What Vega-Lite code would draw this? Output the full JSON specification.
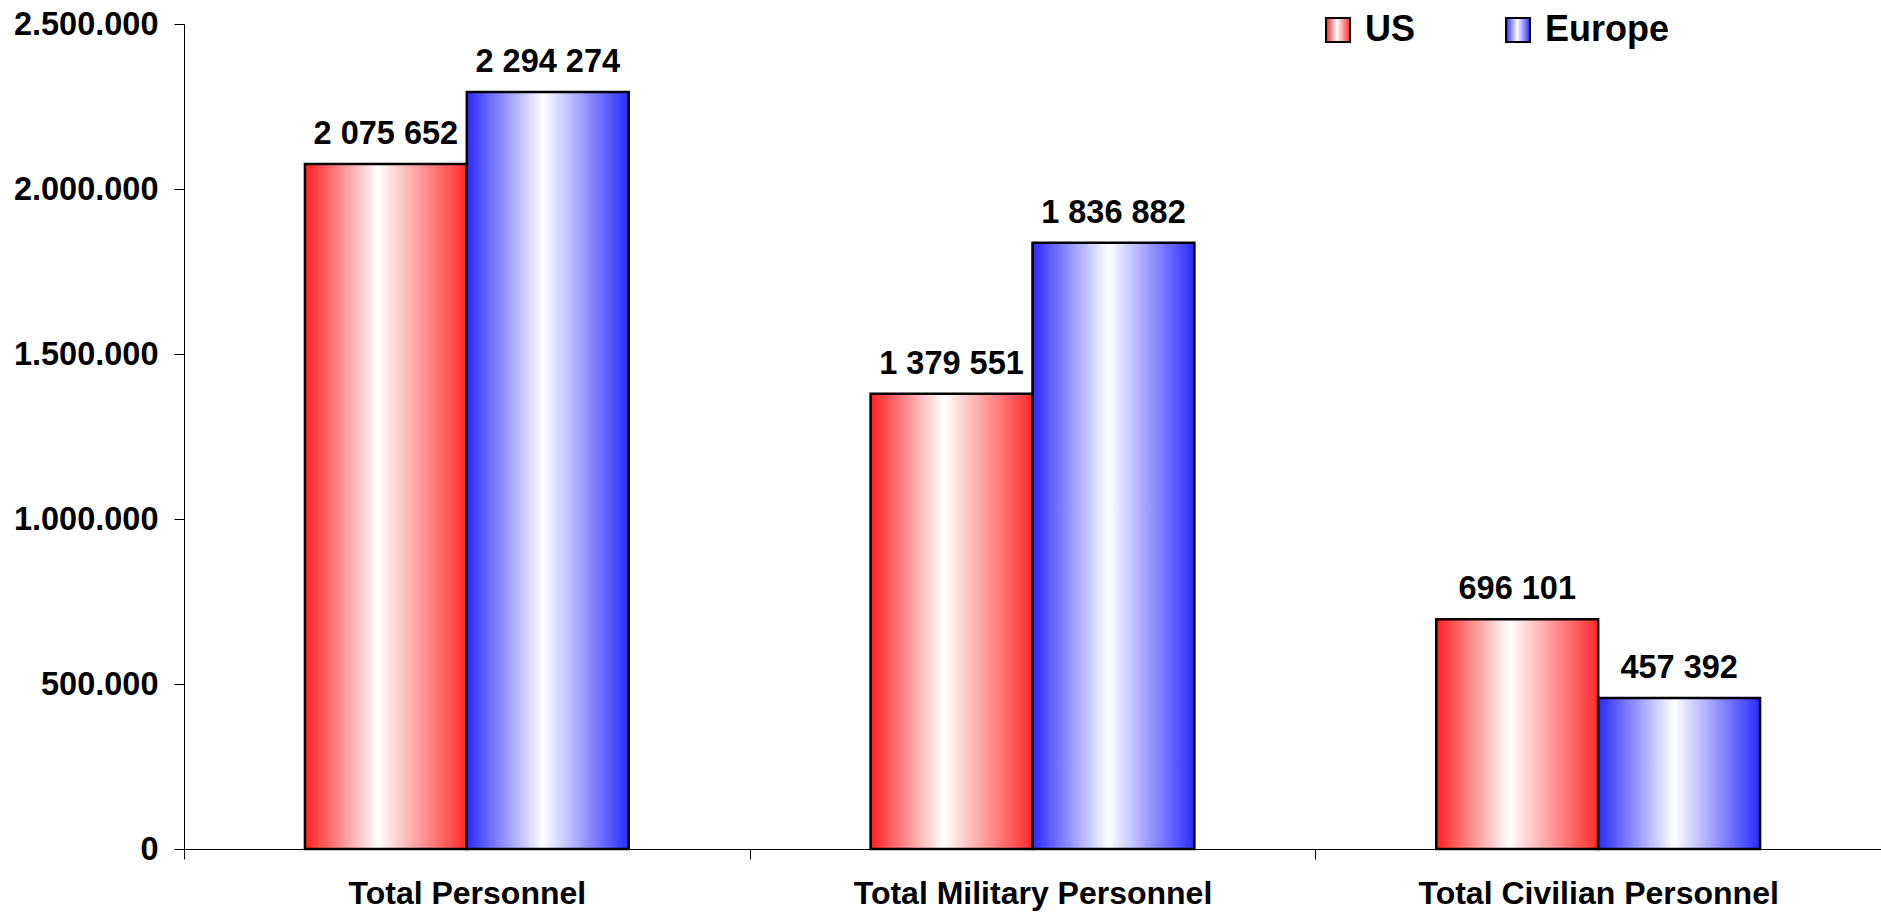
{
  "$schema": "https://vega.github.io/schema/vega-lite/v6.json",
  "width": 1697,
  "height": 825,
  "padding": {"left": 184, "top": 24, "right": 0, "bottom": 65},
  "autosize": {"type": "none"},
  "background": "white",
  "config": {
    "view": {"stroke": null},
    "font": "Liberation Sans",
    "locale": {"number": {"decimal": ",", "thousands": " ", "grouping": [3], "currency": ["", ""]}}
  },
  "data": {
    "values": [
      {"category": "Total Personnel", "series": "US", "value": 2075652},
      {"category": "Total Personnel", "series": "Europe", "value": 2294274},
      {"category": "Total Military Personnel", "series": "US", "value": 1379551},
      {"category": "Total Military Personnel", "series": "Europe", "value": 1836882},
      {"category": "Total Civilian Personnel", "series": "US", "value": 696101},
      {"category": "Total Civilian Personnel", "series": "Europe", "value": 457392}
    ]
  },
  "encoding": {
    "x": {
      "field": "category",
      "type": "nominal",
      "sort": ["Total Personnel", "Total Military Personnel", "Total Civilian Personnel"],
      "scale": {"paddingInner": 0, "paddingOuter": 0},
      "axis": {
        "title": null,
        "labelAngle": 0,
        "labelFont": "Liberation Sans",
        "labelFontSize": 32,
        "labelFontWeight": "bold",
        "labelColor": "black",
        "labelPadding": 19,
        "labelLimit": 700,
        "domainColor": "black",
        "domainWidth": 1,
        "tickColor": "black",
        "tickSize": 10,
        "tickBand": "extent",
        "grid": false
      }
    },
    "xOffset": {
      "field": "series",
      "type": "nominal",
      "sort": ["US", "Europe"],
      "scale": {"paddingInner": 0, "paddingOuter": 0.747}
    },
    "y": {
      "field": "value",
      "type": "quantitative",
      "scale": {"domain": [0, 2500000], "nice": false},
      "axis": {
        "title": null,
        "values": [0, 500000, 1000000, 1500000, 2000000, 2500000],
        "format": ",d",
        "labelExpr": "replace(datum.label, / /g, '.')",
        "labelFont": "Liberation Sans",
        "labelFontSize": 32.5,
        "labelFontWeight": "bold",
        "labelColor": "black",
        "labelPadding": 16,
        "domainColor": "black",
        "domainWidth": 1,
        "tickColor": "black",
        "tickSize": 10,
        "grid": false
      }
    }
  },
  "layer": [
    {
      "mark": {"type": "bar", "stroke": "black", "strokeWidth": 2.5, "opacity": 1},
      "encoding": {
        "color": {
          "field": "series",
          "type": "nominal",
          "sort": ["US", "Europe"],
          "scale": {
            "domain": ["US", "Europe"],
            "range": [
              {"expr": "{gradient: 'linear', x1: 0, y1: 0, x2: 1, y2: 0, stops: [{offset: 0, color: '#ff1f1f'}, {offset: 0.45, color: '#ffffff'}, {offset: 1, color: '#ff2a2a'}]}"},
              {"expr": "{gradient: 'linear', x1: 0, y1: 0, x2: 1, y2: 0, stops: [{offset: 0, color: '#2a2aff'}, {offset: 0.47, color: '#ffffff'}, {offset: 1, color: '#2a2aff'}]}"}
            ]
          },
          "legend": {
            "title": null,
            "orient": "none",
            "legendX": 1136,
            "legendY": -12,
            "direction": "horizontal",
            "columns": 2,
            "columnPadding": 84,
            "symbolType": "square",
            "symbolSize": 576,
            "symbolStrokeColor": "black",
            "symbolStrokeWidth": 2,
            "symbolOpacity": 1,
            "labelFont": "Liberation Sans",
            "labelFontSize": 36,
            "labelFontWeight": "bold",
            "labelColor": "black",
            "labelOffset": 9,
            "labelLimit": 400
          }
        }
      }
    },
    {
      "mark": {"type": "text", "baseline": "alphabetic", "dy": -20, "font": "Liberation Sans", "fontSize": 32.5, "fontWeight": "bold", "color": "black"},
      "encoding": {
        "text": {"field": "value", "type": "quantitative", "format": ",d"}
      }
    }
  ]
}
